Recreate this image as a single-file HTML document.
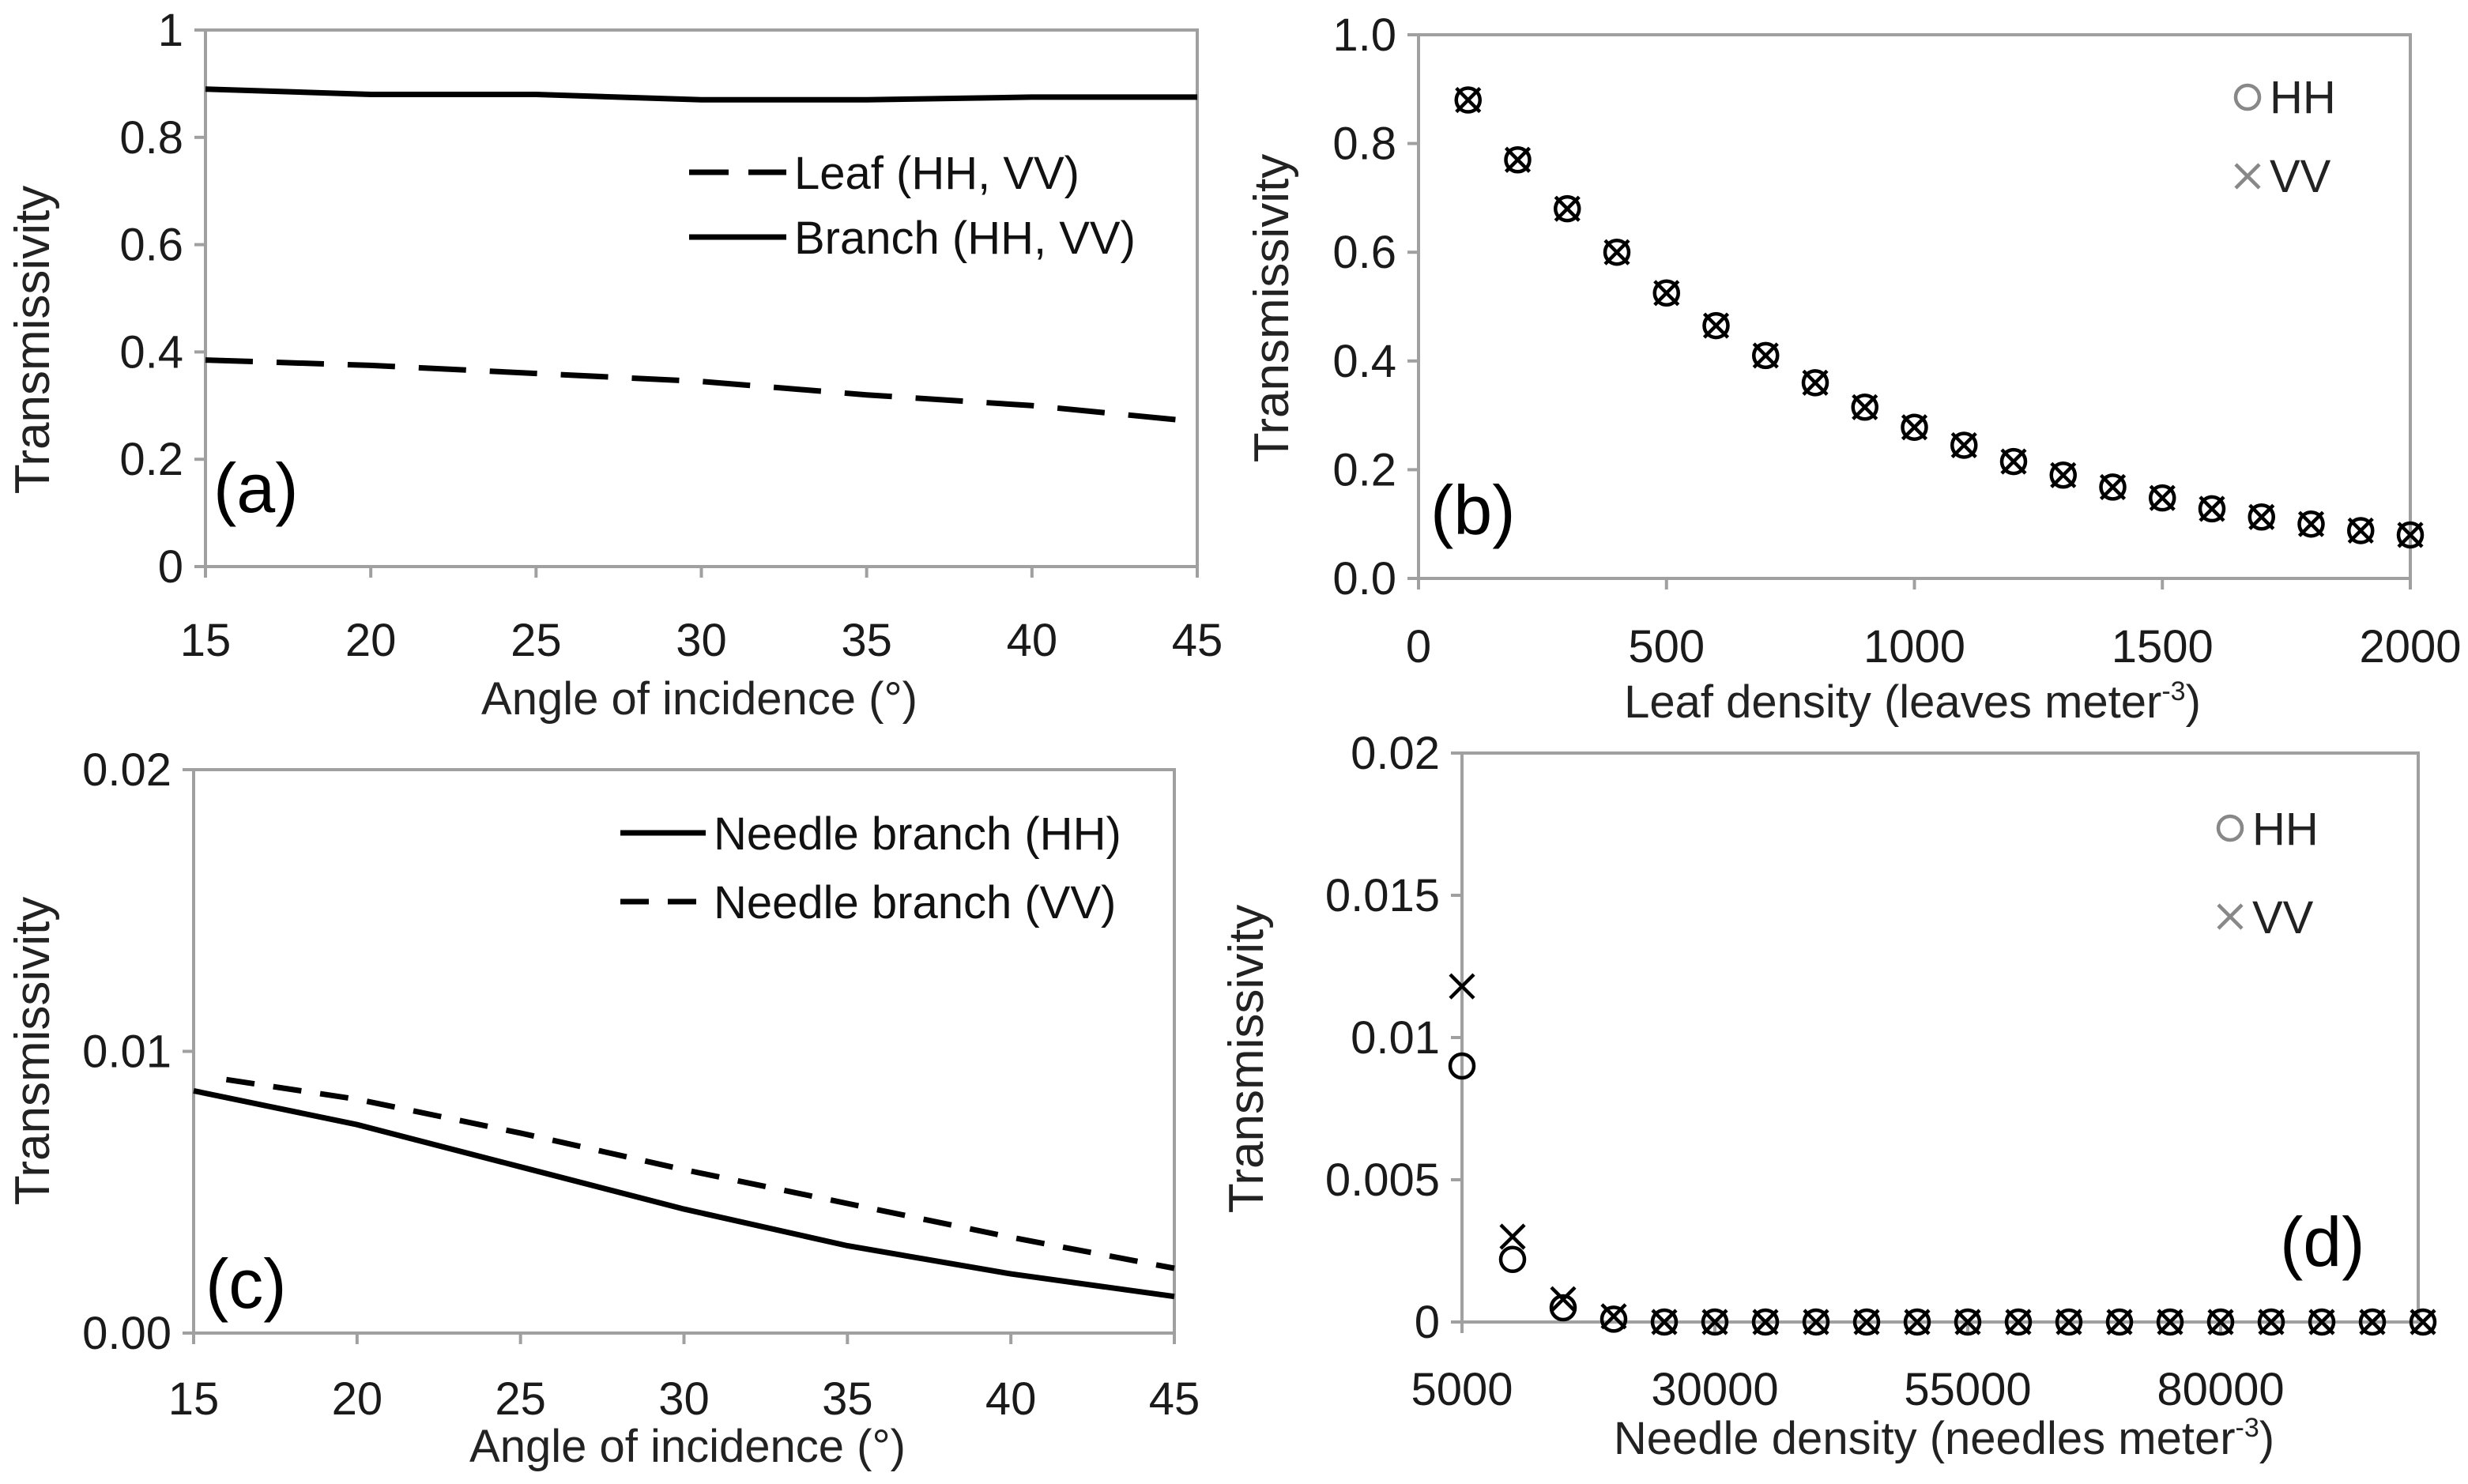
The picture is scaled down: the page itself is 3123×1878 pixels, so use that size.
<!DOCTYPE html>
<html><head><meta charset="utf-8"><style>
html,body{margin:0;padding:0;background:#fff;}
svg{display:block;font-family:"Liberation Sans",sans-serif;}
</style></head><body>
<svg id="fig" width="3123" height="1878" viewBox="0 0 3123 1878" xmlns="http://www.w3.org/2000/svg"></svg>
<script>
// Panel (a)
const aAngles = [15,20,25,30,35,40,45];
const aBranch = [0.89,0.88,0.88,0.87,0.87,0.875,0.875];
const aLeaf = [0.385,0.375,0.36,0.345,0.32,0.30,0.27];
const aXTicks = [15,20,25,30,35,40,45];
const aYTicks = [0,0.2,0.4,0.6,0.8,1];
const aYLabels = ["0","0.2","0.4","0.6","0.8","1"];
// Panel (b)
const bDensity = [100,200,300,400,500,600,700,800,900,1000,1100,1200,1300,1400,1500,1600,1700,1800,1900,2000];
const bHH = [0.88,0.77,0.68,0.60,0.525,0.465,0.41,0.36,0.315,0.278,0.245,0.215,0.19,0.168,0.148,0.128,0.113,0.10,0.088,0.08];
const bVV = [0.88,0.77,0.68,0.60,0.525,0.465,0.41,0.36,0.315,0.278,0.245,0.215,0.19,0.168,0.148,0.128,0.113,0.10,0.088,0.08];
const bXTicks = [0,500,1000,1500,2000];
const bYTicks = [0,0.2,0.4,0.6,0.8,1.0];
const bYLabels = ["0.0","0.2","0.4","0.6","0.8","1.0"];
// Panel (c)
const cAnglesHH = [15,20,25,30,35,40,45];
const cHH = [0.0086,0.0074,0.0059,0.0044,0.0031,0.0021,0.0013];
const cAnglesVV = [16,20,25,30,35,40,45];
const cVV = [0.0090,0.0083,0.0071,0.0058,0.0046,0.0034,0.0023];
const cXTicks = [15,20,25,30,35,40,45];
const cYTicks = [0,0.01,0.02];
const cYLabels = ["0.00","0.01","0.02"];
// Panel (d)
const dDensity = [5000,10000,15000,20000,25000,30000,35000,40000,45000,50000,55000,60000,65000,70000,75000,80000,85000,90000,95000,100000];
const dHH = [0.009,0.0022,0.0005,0.0001,0,0,0,0,0,0,0,0,0,0,0,0,0,0,0,0];
const dVV = [0.0118,0.003,0.0008,0.0002,0,0,0,0,0,0,0,0,0,0,0,0,0,0,0,0];
const dXTicks = [5000,30000,55000,80000];
const dYTicks = [0,0.005,0.01,0.015,0.02];
const dYLabels = ["0","0.005","0.01","0.015","0.02"];

const svg = document.getElementById('fig');
const NS = 'http://www.w3.org/2000/svg';
function mk(tag, attrs, parent){const e=document.createElementNS(NS,tag);for(const k in attrs)e.setAttribute(k,attrs[k]);(parent||svg).appendChild(e);return e;}
function txt(s, attrs, parent){const e=mk('text',attrs,parent);e.textContent=s;return e;}
function scale(d0,d1,r0,r1){return v=>r0+(v-d0)*(r1-r0)/(d1-d0);}

function axes(p){
  const g=mk('g',{});
  
  
  const fr=mk('rect',{x:p.L,y:p.T,width:p.R-p.L,height:p.B-p.T,fill:'none',stroke:'#a0a0a0','stroke-width':4},g);
  
  
  p.yt.forEach((v,i)=>{
    const y=p.sy(v);
    mk('line',{x1:p.L-14,x2:p.L,y1:y,y2:y,stroke:'#a0a0a0','stroke-width':4},g);
    const t=txt(p.yl[i],{x:p.L-28,y:y+20,'text-anchor':'end','font-size':58,fill:'#1a1a1a'},g);
    
    
  });
  p.xt.forEach(v=>{
    const x=p.sx(v);
    mk('line',{x1:x,x2:x,y1:p.B,y2:p.B+14,stroke:'#a0a0a0','stroke-width':4},g);
    const t=txt(String(v),{x:x,y:p.xly,'text-anchor':'middle','font-size':58,fill:'#1a1a1a'},g);
    
    
  });
  const xt=txt(p.xtitle,{x:p.xtx,y:p.xty,'text-anchor':'middle','font-size':58,fill:'#222'},g);
  
  
  if(p.sup){const s=mk('tspan',{'font-size':34,dy:-22},xt);s.textContent=p.sup;const s2=mk('tspan',{dy:22},xt);s2.textContent=')';}
  const yt=txt('Transmissivity',{x:0,y:0,'text-anchor':'middle','font-size':62,fill:'#222',transform:`translate(${p.ytx},${p.yty}) rotate(-90)`},g);
  
  
  const pl=txt(p.label,{x:p.lx,y:p.ly,'font-size':88,fill:'#000'},g);
  
  
  return g;
}
function line(g,xs,ys,p,dash,w,name){
  const d=xs.map((x,i)=>(i?'L':'M')+p.sx(x).toFixed(1)+','+p.sy(ys[i]).toFixed(1)).join(' ');
  const e=mk('path',{d:d,fill:'none',stroke:'#000','stroke-width':w,'stroke-dasharray':dash||'none'},g);
  
  
}
function circ(g,x,y,col,name){const e=mk('circle',{cx:x,cy:y,r:15,fill:'none',stroke:col,'stroke-width':4.5},g);}
function cross(g,x,y,col,name){const s=15;const e=mk('path',{d:`M${x-s},${y-s}L${x+s},${y+s}M${x-s},${y+s}L${x+s},${y-s}`,stroke:col,'stroke-width':4.5,fill:'none'},g);}
function legendLine(g,x1,x2,y,dash,label,name){
  const e=mk('line',{x1:x1,x2:x2,y1:y,y2:y,stroke:'#000','stroke-width':7,'stroke-dasharray':dash||'none'},g);
  
  
  const t=txt(label,{x:x2+10,y:y+21,'font-size':58,fill:'#111'},g);
  
  
}

// (a)
const pa={name:'panel-a',L:260,R:1515,T:38,B:717,xt:aXTicks,yt:aYTicks,yl:aYLabels,xly:830,xtitle:'Angle of incidence (°)',xtx:885,xty:904,ytx:62,yty:430,label:'(a)',lx:270,ly:648};
pa.sx=scale(15,45,pa.L,pa.R);pa.sy=scale(0,1,pa.B,pa.T);
const ga=axes(pa);
line(ga,aAngles,aBranch,pa,null,7,'branch-line');
line(ga,aAngles,aLeaf,pa,'60,30',7,'leaf-line');
legendLine(ga,872,995,218,'50,25','Leaf (HH, VV)','legend-leaf');
legendLine(ga,872,995,300,null,'Branch (HH, VV)','legend-branch');

// (b)
const pb={name:'panel-b',L:1795,R:3050,T:44,B:732,xt:bXTicks,yt:bYTicks,yl:bYLabels,xly:838,xtitle:'Leaf density (leaves meter',sup:'-3',xtx:2420,xty:908,ytx:1630,yty:390,label:'(b)',lx:1810,ly:676};
pb.sx=scale(0,2000,pb.L,pb.R);pb.sy=scale(0,1,pb.B,pb.T);
const gb=axes(pb);
bDensity.forEach((x,i)=>{circ(gb,pb.sx(x),pb.sy(bHH[i]),'#000','hh-marker');cross(gb,pb.sx(x),pb.sy(bVV[i]),'#000','vv-marker');});
circ(gb,2844,123,'#888','legend-hh-marker');
let t=txt('HH',{x:2872,y:143,'font-size':58,fill:'#222'},gb);
cross(gb,2844,223,'#888','legend-vv-marker');
t=txt('VV',{x:2872,y:243,'font-size':58,fill:'#222'},gb);

// (c)
const pc={name:'panel-c',L:245,R:1486,T:974,B:1687,xt:cXTicks,yt:cYTicks,yl:cYLabels,xly:1790,xtitle:'Angle of incidence (°)',xtx:870,xty:1850,ytx:62,yty:1330,label:'(c)',lx:260,ly:1655};
pc.sx=scale(15,45,pc.L,pc.R);pc.sy=scale(0,0.02,pc.B,pc.T);
const gc=axes(pc);
line(gc,cAnglesHH,cHH,pc,null,7,'needle-hh-line');
line(gc,cAnglesVV,cVV,pc,'36,24',7,'needle-vv-line');
legendLine(gc,785,893,1054,null,'Needle branch (HH)','legend-needle-hh');
legendLine(gc,785,893,1141,'36,24','Needle branch (VV)','legend-needle-vv');

// (d)
const pd={name:'panel-d',L:1850,R:3060,T:953,B:1673,xt:dXTicks,yt:dYTicks,yl:dYLabels,xly:1778,xtitle:'Needle density (needles meter',sup:'-3',xtx:2460,xty:1840,ytx:1598,yty:1340,label:'(d)',lx:2885,ly:1602};
pd.sx=scale(5000,100000,pd.L,pd.R+6);pd.sy=scale(0,0.02,pd.B,pd.T);
const gd=axes(pd);
dDensity.forEach((x,i)=>{circ(gd,pd.sx(x),pd.sy(dHH[i]),'#000','hh-marker');cross(gd,pd.sx(x),pd.sy(dVV[i]),'#000','vv-marker');});
circ(gd,2822,1048,'#888','legend-hh-marker');
t=txt('HH',{x:2850,y:1069,'font-size':58,fill:'#222'},gd);
cross(gd,2822,1160,'#888','legend-vv-marker');
t=txt('VV',{x:2850,y:1181,'font-size':58,fill:'#222'},gd);
</script>
</body></html>
